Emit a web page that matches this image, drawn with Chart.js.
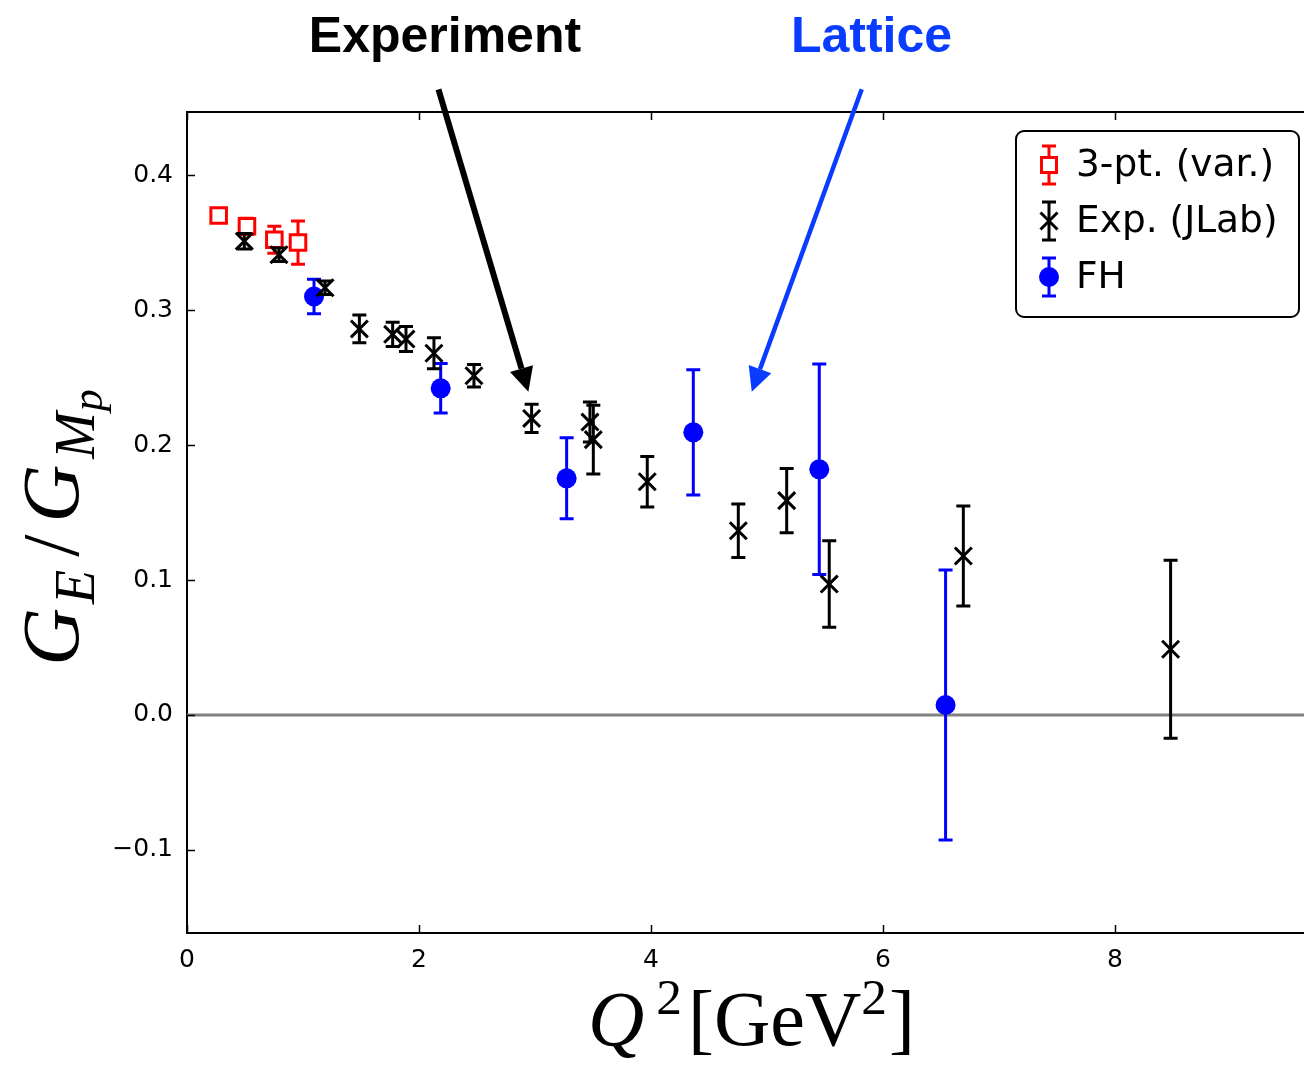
<!DOCTYPE html>
<html>
<head>
<meta charset="utf-8">
<script src="https://cdn.jsdelivr.net/npm/chart.js@4.4.0/dist/chart.umd.min.js"></script>
<style>
  html, body { margin: 0; padding: 0; background: #fff; overflow: hidden; }
  canvas { display: block; }
</style>
</head>
<body>
<canvas id="ratioChart" width="1304" height="1066"></canvas>
<script>
// データ
const threePtQ2 = [0.273, 0.517, 0.753, 0.957];
const threePtRatio = [0.370, 0.362, 0.352, 0.350];
const threePtErr = [0.004, 0.006, 0.010, 0.016];

const expQ2 = [0.494, 0.793, 1.19, 1.486, 1.773, 1.888, 2.129, 2.474, 2.971, 3.474, 3.503, 3.968, 4.753, 5.170, 5.537, 6.693, 8.480];
const expRatio = [0.351, 0.341, 0.3165, 0.286, 0.282, 0.2785, 0.268, 0.2513, 0.2197, 0.217, 0.204, 0.1728, 0.1365, 0.1588, 0.097, 0.1178, 0.0487];
const expErr = [0.0057, 0.005, 0.005, 0.0103, 0.009, 0.0093, 0.0115, 0.0084, 0.0105, 0.0148, 0.0254, 0.0187, 0.0198, 0.0238, 0.032, 0.037, 0.066];

const fhQ2 = [1.095, 2.187, 3.273, 4.365, 5.451, 6.54];
const fhRatio = [0.310, 0.242, 0.1753, 0.2094, 0.182, 0.0074];
const fhErr = [0.0128, 0.0183, 0.030, 0.0464, 0.078, 0.100];

const seriesLabels = ['3-pt. (var.)', 'Exp. (JLab)', 'FH'];

const xTicks = [0, 2, 4, 6, 8];
const xTickLabels = ['0', '2', '4', '6', '8'];
const yTicks = [-0.1, 0.0, 0.1, 0.2, 0.3, 0.4];
const yTickLabels = ['\u22120.1', '0.0', '0.1', '0.2', '0.3', '0.4'];

// 注釈（データ座標）
const noteTexts = ['Experiment', 'Lattice'];
const noteTextQ2 = [2.224, 5.901];
const noteTextRatio = [0.491, 0.491];
const arrowTailQ2 = [2.168, 5.817];
const arrowTailRatio = [0.4635, 0.4635];
const arrowTipQ2 = [2.943, 4.869];
const arrowTipRatio = [0.2395, 0.2395];

const xMin = 0, xMax = 9.63;
const yMin = -0.1615, yMax = 0.4467;

const RED = '#ff0000';
const BLUE = '#0000ff';
const NOTE_BLUE = '#0a3cff';

function toPoints(xs, ys) {
    return xs.map((x, i) => ({ x: x, y: ys[i] }));
}

// エラーバー描画（各データセットのマーカーの下に描く）
const errorBarPlugin = {
    id: 'errorBars',
    beforeDatasetDraw(chart, args) {
        const ds = chart.data.datasets[args.index];
        if (!ds.errors) return;
        const ctx = chart.ctx;
        const xs = chart.scales.x, ys = chart.scales.y;
        ctx.save();
        ctx.strokeStyle = ds.barColor;
        ctx.lineWidth = 3;
        ds.data.forEach((p, i) => {
            const e = ds.errors[i];
            const px = xs.getPixelForValue(p.x);
            const top = ys.getPixelForValue(p.y + e);
            const bot = ys.getPixelForValue(p.y - e);
            ctx.beginPath();
            ctx.moveTo(px, top); ctx.lineTo(px, bot);
            ctx.moveTo(px - 7, top); ctx.lineTo(px + 7, top);
            ctx.moveTo(px - 7, bot); ctx.lineTo(px + 7, bot);
            ctx.stroke();
        });
        ctx.restore();
    }
};

// ゼロ線
const zeroLinePlugin = {
    id: 'zeroLine',
    beforeDatasetsDraw(chart) {
        const ctx = chart.ctx, a = chart.chartArea;
        const y0 = chart.scales.y.getPixelForValue(0);
        ctx.save();
        ctx.strokeStyle = '#808080';
        ctx.lineWidth = 3;
        ctx.beginPath();
        ctx.moveTo(a.left, y0); ctx.lineTo(a.right, y0);
        ctx.stroke();
        ctx.restore();
    }
};

// [文字, 斜体, 倍率, 縦ずれ, 後ろの隙間]
function drawRuns(ctx, runs, size) {
    let total = 0;
    const widths = runs.map(r => {
        ctx.font = (r[1] ? 'italic ' : '') + (size * r[2]) + 'px "Liberation Serif", "DejaVu Serif", serif';
        const w = ctx.measureText(r[0]).width;
        total += w + (r[4] || 0);
        return w;
    });
    let x = -total / 2;
    ctx.textBaseline = 'alphabetic';
    ctx.textAlign = 'left';
    runs.forEach((r, i) => {
        ctx.font = (r[1] ? 'italic ' : '') + (size * r[2]) + 'px "Liberation Serif", "DejaVu Serif", serif';
        ctx.fillText(r[0], x, r[3] * size);
        x += widths[i] + (r[4] || 0);
    });
}

function drawMarker(ctx, kind, x, y) {
    ctx.save();
    ctx.lineWidth = 3;
    if (kind === 'rect') {
        ctx.fillStyle = '#fff';
        ctx.strokeStyle = RED;
        ctx.fillRect(x - 7.5, y - 7.5, 15, 15);
        ctx.strokeRect(x - 7.5, y - 7.5, 15, 15);
    } else if (kind === 'cross') {
        ctx.strokeStyle = '#000';
        ctx.beginPath();
        ctx.moveTo(x - 8.5, y - 8.5); ctx.lineTo(x + 8.5, y + 8.5);
        ctx.moveTo(x - 8.5, y + 8.5); ctx.lineTo(x + 8.5, y - 8.5);
        ctx.stroke();
    } else {
        ctx.fillStyle = BLUE;
        ctx.beginPath();
        ctx.arc(x, y, 10, 0, Math.PI * 2);
        ctx.fill();
    }
    ctx.restore();
}

// 枠、目盛り、軸ラベル、凡例、注釈
const decorPlugin = {
    id: 'decor',
    afterDraw(chart) {
        const ctx = chart.ctx, a = chart.chartArea;
        const xs = chart.scales.x, ys = chart.scales.y;
        ctx.save();

        // 上の枠線
        ctx.strokeStyle = '#000';
        ctx.lineWidth = 2;
        ctx.beginPath();
        ctx.moveTo(a.left, a.top); ctx.lineTo(a.right, a.top);
        ctx.stroke();

        // 内向きの目盛り
        ctx.lineWidth = 1.5;
        ctx.beginPath();
        xTicks.forEach(v => {
            const px = Math.round(xs.getPixelForValue(v)) + 0.5;
            ctx.moveTo(px, a.bottom); ctx.lineTo(px, a.bottom - 8);
            ctx.moveTo(px, a.top); ctx.lineTo(px, a.top + 8);
        });
        yTicks.forEach(v => {
            const py = Math.round(ys.getPixelForValue(v)) + 0.5;
            ctx.moveTo(a.left, py); ctx.lineTo(a.left + 8, py);
        });
        ctx.stroke();

        // 軸ラベル
        ctx.fillStyle = '#000';
        ctx.save();
        ctx.translate((a.left + a.right) / 2 + 6, a.bottom + 112);
        drawRuns(ctx, [['Q', true, 1, 0, 12], ['2', false, 0.66, -0.4, 6], ['[', false, 1, 0], ['GeV', false, 1, 0], ['2', false, 0.66, -0.4, 2], [']', false, 1, 0]], 78);
        ctx.restore();

        ctx.save();
        ctx.translate(78, (a.top + a.bottom) / 2 + 5);
        ctx.rotate(-Math.PI / 2);
        drawRuns(ctx, [['G', true, 1, 0, 4], ['E', true, 0.7, 0.2, 13], ['/', false, 1, 0, 12], ['G', true, 1, 0, 6], ['M', true, 0.7, 0.2, 1], ['p', true, 0.55, 0.3]], 80);
        ctx.restore();

        // 凡例
        const lx = a.right - 288, ly = a.top + 19, lw = 283, lh = 186;
        ctx.beginPath();
        ctx.roundRect(lx, ly, lw, lh, 8);
        ctx.fillStyle = '#fff';
        ctx.fill();
        ctx.lineWidth = 2;
        ctx.strokeStyle = '#000';
        ctx.stroke();
        const kinds = ['rect', 'cross', 'circle'];
        const colors = [RED, '#000', BLUE];
        kinds.forEach((k, i) => {
            const mx = lx + 33, my = ly + 34 + i * 56;
            ctx.strokeStyle = colors[i];
            ctx.lineWidth = 3;
            ctx.beginPath();
            ctx.moveTo(mx, my - 19); ctx.lineTo(mx, my + 19);
            ctx.moveTo(mx - 7, my - 19); ctx.lineTo(mx + 7, my - 19);
            ctx.moveTo(mx - 7, my + 19); ctx.lineTo(mx + 7, my + 19);
            ctx.stroke();
            drawMarker(ctx, k, mx, my);
            ctx.fillStyle = '#000';
            ctx.font = '37.5px "DejaVu Sans", sans-serif';
            ctx.textAlign = 'left';
            ctx.textBaseline = 'middle';
            ctx.fillText(seriesLabels[i], lx + 60, my + 1);
        });

        // 注釈の矢印と文字
        const noteColors = ['#000', NOTE_BLUE];
        const shaftWidths = [6, 4.5];
        noteTexts.forEach((t, i) => {
            const tx = xs.getPixelForValue(arrowTailQ2[i]), ty = ys.getPixelForValue(arrowTailRatio[i]);
            const hx = xs.getPixelForValue(arrowTipQ2[i]), hy = ys.getPixelForValue(arrowTipRatio[i]);
            const ang = Math.atan2(hy - ty, hx - tx);
            const headLen = 24, headHalf = 12;
            const bx = hx - headLen * Math.cos(ang), by = hy - headLen * Math.sin(ang);
            ctx.strokeStyle = noteColors[i];
            ctx.fillStyle = noteColors[i];
            ctx.lineWidth = shaftWidths[i];
            ctx.beginPath();
            ctx.moveTo(tx, ty); ctx.lineTo(bx, by);
            ctx.stroke();
            ctx.beginPath();
            ctx.moveTo(hx, hy);
            ctx.lineTo(bx + headHalf * Math.sin(ang), by - headHalf * Math.cos(ang));
            ctx.lineTo(bx - headHalf * Math.sin(ang), by + headHalf * Math.cos(ang));
            ctx.closePath();
            ctx.fill();

            ctx.font = 'bold 50px "Liberation Sans", Arial, sans-serif';
            ctx.textAlign = 'center';
            ctx.textBaseline = 'alphabetic';
            ctx.fillText(t, xs.getPixelForValue(noteTextQ2[i]), ys.getPixelForValue(noteTextRatio[i]));
        });

        ctx.restore();
    }
};

const ctx = document.getElementById('ratioChart').getContext('2d');
const chart = new Chart(ctx, {
    type: 'scatter',
    data: {
        datasets: [
            {
                label: seriesLabels[1],
                data: toPoints(expQ2, expRatio),
                errors: expErr,
                barColor: '#000',
                pointStyle: 'crossRot',
                pointRadius: 12,
                borderColor: '#000',
                backgroundColor: '#000',
                borderWidth: 3
            },
            {
                label: seriesLabels[2],
                data: toPoints(fhQ2, fhRatio),
                errors: fhErr,
                barColor: BLUE,
                pointStyle: 'circle',
                pointRadius: 10,
                borderColor: BLUE,
                backgroundColor: BLUE,
                borderWidth: 0
            },
            {
                label: seriesLabels[0],
                data: toPoints(threePtQ2, threePtRatio),
                errors: threePtErr,
                barColor: RED,
                pointStyle: 'rect',
                pointRadius: 11,
                borderColor: RED,
                backgroundColor: '#fff',
                borderWidth: 3
            }
        ]
    },
    options: {
        responsive: false,
        animation: false,
        devicePixelRatio: 1,
        layout: { autoPadding: false, padding: { left: 0, right: 0, top: 112, bottom: 0 } },
        scales: {
            x: {
                type: 'linear',
                min: xMin,
                max: xMax,
                afterFit: s => { s.height = 133; },
                afterBuildTicks: s => { s.ticks = xTicks.map(v => ({ value: v })); },
                ticks: {
                    padding: 12,
                    color: '#000',
                    font: { family: '"DejaVu Sans", sans-serif', size: 25 },
                    callback: (v, i) => xTickLabels[i]
                },
                grid: { display: false, drawTicks: false },
                border: { display: true, color: '#000', width: 2 }
            },
            y: {
                type: 'linear',
                min: yMin,
                max: yMax,
                afterFit: s => { s.width = 187; },
                afterBuildTicks: s => { s.ticks = yTicks.map(v => ({ value: v })); },
                ticks: {
                    padding: 14,
                    color: '#000',
                    font: { family: '"DejaVu Sans", sans-serif', size: 25 },
                    callback: (v, i) => yTickLabels[i]
                },
                grid: { display: false, drawTicks: false },
                border: { display: true, color: '#000', width: 2 }
            }
        },
        plugins: {
            legend: { display: false },
            tooltip: { enabled: false }
        }
    },
    plugins: [zeroLinePlugin, errorBarPlugin, decorPlugin]
});
</script>
</body>
</html>
